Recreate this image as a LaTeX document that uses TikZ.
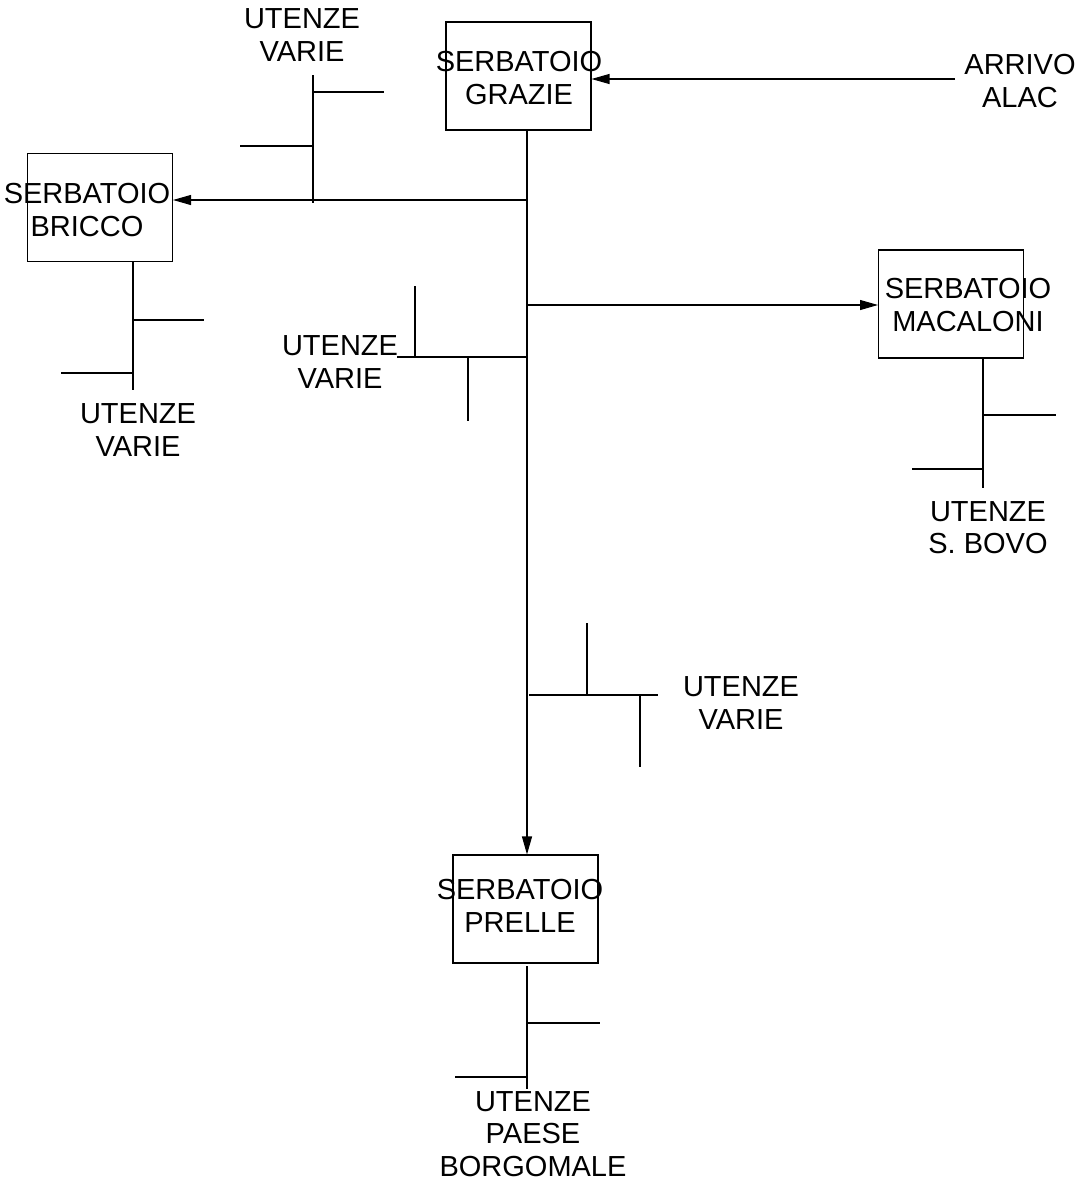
\documentclass[tikz,border=0pt]{standalone}
\usepackage{fontspec}
\setmainfont{Liberation Sans}
\usetikzlibrary{positioning,arrows.meta}
\tikzset{
  tank/.style={draw, minimum width=2.9cm, minimum height=2.16cm, inner sep=0pt,
    line width=0.6pt},
  lbl/.style={align=center, inner sep=0pt, text depth=0pt,
    font=\fontsize{16.5}{18.5}\selectfont},
  pipe/.style={line width=0.6pt},
  feed/.style={pipe, -{Triangle[length=3.6mm, width=2mm]}},
}
\begin{document}
\begin{tikzpicture}[x=0.02cm, y=-0.02cm]
    \useasboundingbox (0,0) rectangle (1076,1180);
    % tanks
    \node[tank] (grazie) at (518.5,76) {};
    \node[tank] (bricco) at (100,207.5) {};
    \node[tank] (macaloni) at (951,304) {};
    \node[tank] (prelle) at (525.5,909) {};
    \node[lbl] (grazieT) at (519,78) {SERBATOIO\\GRAZIE};
    \node[lbl] (briccoT) at (87,210) {SERBATOIO\\BRICCO};
    \node[lbl] (macaloniT) at (968,305) {SERBATOIO\\MACALONI};
    \node[lbl] (prelleT) at (520,906) {SERBATOIO\\PRELLE};
    % users
    \node[lbl] (arrivo) at (1020,81) {ARRIVO\\ALAC};
    \node[lbl] (uTop) at (302,35) {UTENZE\\VARIE};
    \node[lbl] (uBricco) at (138,430) {UTENZE\\VARIE};
    \node[lbl] (uMid) at (340,362) {UTENZE\\VARIE};
    \node[lbl] (uLow) at (741,703) {UTENZE\\VARIE};
    \node[lbl] (uBovo) at (988,527.5) {UTENZE\\S. BOVO};
    \node[lbl] (uPrelle) at (533,1134) {UTENZE\\PAESE\\BORGOMALE};
    % main feed
    \coordinate (alac) at (955,79);
    \coordinate (tTop) at (527,130);
    \coordinate (jB) at (526,200);
    \coordinate (jM) at (528,305);
    \draw[feed] (alac) -- (grazie.east |- alac);
    \draw[feed] (tTop) -- (tTop |- prelle.north);
    \draw[feed] (jB) -- (bricco.east |- jB);
    \draw[feed] (jM) -- (macaloni.west |- jM);
    % local branches
    \draw[pipe] (313,75) -- (313,203) (313,92) -- (384,92) (240,146) -- (313,146);
    \draw[pipe] (133,262) -- (133,390) (133,320) -- (204,320) (61,373) -- (133,373);
    \draw[pipe] (397,357) -- (527,357) (415,286) -- (415,357) (468,357) -- (468,421);
    \draw[pipe] (529,695) -- (658,695) (587,623) -- (587,695) (640,695) -- (640,767);
    \draw[pipe] (983,359) -- (983,488) (983,415) -- (1056,415) (912,469) -- (983,469);
    \draw[pipe] (527,966) -- (527,1089) (527,1023) -- (600,1023) (455,1077) -- (527,1077);
\end{tikzpicture}
\end{document}
